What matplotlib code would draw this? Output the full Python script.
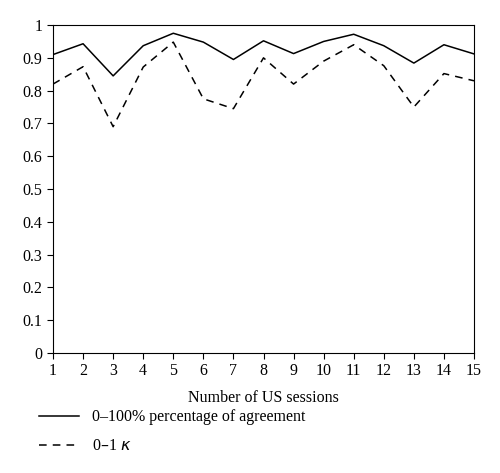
import matplotlib
matplotlib.use("Agg")
import matplotlib.pyplot as plt

sessions = list(range(1, 16))
agreement = [0.91,0.943,0.845,0.937,0.975,0.948,0.895,0.952,0.913,0.95,0.972,0.937,0.884,0.94,0.912]
kappa = [0.82,0.873,0.69,0.872,0.948,0.775,0.745,0.9,0.82,0.89,0.94,0.876,0.75,0.852,0.83]
yticks = [0,0.1,0.2,0.3,0.4,0.5,0.6,0.7,0.8,0.9,1]
ylabels = ["0","0.1","0.2","0.3","0.4","0.5","0.6","0.7","0.8","0.9","1"]

plt.rcParams['font.family'] = ['Liberation Serif', 'DejaVu Serif']
fig = plt.figure(figsize=(5, 4.73), dpi=100)
ax = fig.add_axes([0.106, 0.254, 0.842, 0.693])
l1, = ax.plot(sessions, agreement, color='black', lw=1.1)
l2, = ax.plot(sessions, kappa, color='black', lw=1.1, ls=(0, (5, 4)))
ax.set_xlim(1, 15)
ax.set_ylim(0, 1)
ax.set_xticks(sessions)
ax.set_yticks(yticks)
ax.set_yticklabels(ylabels)
ax.tick_params(labelsize=11.5, direction='out', length=4)
ax.set_xlabel("Number of US sessions", fontsize=11.5, labelpad=8)
fig.legend([l1, l2], ["0–100% percentage of agreement", "0–1 $\\kappa$"],
           loc='upper left', bbox_to_anchor=(0.05, 0.165), frameon=False,
           fontsize=11.5, handlelength=2.5, labelspacing=0.8)
fig.savefig("out.png", dpi=100)
